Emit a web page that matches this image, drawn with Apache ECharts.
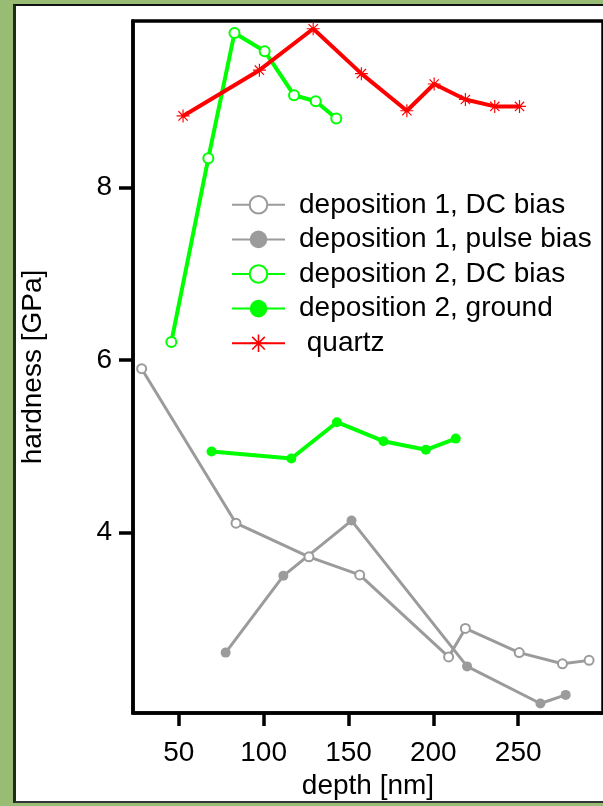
<!DOCTYPE html>
<html>
<head>
<meta charset="utf-8">
<script src="https://cdn.jsdelivr.net/npm/echarts@6/dist/echarts.min.js"></script>
<style>
  html, body { margin: 0; padding: 0; width: 603px; height: 806px; overflow: hidden; background: #99bc75; }
  #panel { position: absolute; left: 13px; top: 4px; width: 700px; height: 799px; background: #fff;
           border-left: 3px solid #1e2e16; border-top: 2px solid #111; border-bottom: 2px solid #333; box-sizing: border-box; }
  #chart { position: absolute; left: 0; top: 0; width: 603px; height: 806px; }
</style>
</head>
<body>
<div id="panel"></div>
<div id="chart"></div>
<script>
// depth [nm] and hardness [GPa]
const dep1DcX = [28.1, 83.7, 126.7, 156.6, 209.0, 218.9, 250.6, 276.1, 291.8];
const dep1DcY = [5.90, 4.11, 3.72, 3.51, 2.56, 2.89, 2.61, 2.48, 2.52];

const dep1PulseX = [77.6, 111.6, 151.8, 219.9, 263.1, 278.0];
const dep1PulseY = [2.61, 3.50, 4.14, 2.45, 2.02, 2.12];

const dep2DcX = [45.6, 67.4, 82.8, 100.6, 117.9, 130.7, 142.8];
const dep2DcY = [6.21, 8.34, 9.79, 9.58, 9.07, 9.00, 8.80];

const dep2GroundX = [69.3, 116.3, 143.2, 170.6, 195.6, 213.2];
const dep2GroundY = [4.94, 4.86, 5.28, 5.06, 4.96, 5.09];

const quartzX = [52.5, 97.5, 129.2, 157.6, 184.4, 200.5, 218.9, 236.2, 250.8];
const quartzY = [8.83, 9.36, 9.84, 9.32, 8.89, 9.20, 9.02, 8.94, 8.94];

const xTicks = [50, 100, 150, 200, 250];
const yTicks = [4, 6, 8];

const seriesNames = ['deposition 1, DC bias', 'deposition 1, pulse bias', 'deposition 2, DC bias', 'deposition 2, ground', ' quartz'];

function pairs(xs, ys) { return xs.map((x, i) => [x, ys[i]]); }

const FONT = "'Liberation Sans', Arial, Helvetica, sans-serif";
const GRAY = '#9b9b9b', GREEN = '#00ff00', RED = '#ff0000';
const ASTERISK = 'path://M0 9.1L20 9.1L20 10.9L0 10.9Z M9.1 0L10.9 0L10.9 20L9.1 20Z M2.2 3.5L3.5 2.2L17.8 16.5L16.5 17.8Z M16.5 2.2L17.8 3.5L3.5 17.8L2.2 16.5Z';

const chart = echarts.init(document.getElementById('chart'), null, { renderer: 'canvas' });
chart.setOption({
  backgroundColor: 'transparent',
  animation: false,
  textStyle: { fontFamily: FONT },
  grid: { left: 133, top: 21, width: 481, height: 692, show: true, borderColor: '#000', borderWidth: 3.5, backgroundColor: 'transparent' },
  legend: {
    orient: 'vertical', left: 226, top: 182.5,
    itemWidth: 53, itemHeight: 22, itemGap: 0,
    textStyle: { fontFamily: FONT, fontSize: 28, color: '#000', lineHeight: 34.6, padding: [0, 0, 0, 9] },
    data: seriesNames
  },
  xAxis: {
    type: 'value', min: 23, max: 300,
    name: 'depth [nm]', nameLocation: 'middle', nameGap: 58,
    nameTextStyle: { fontFamily: FONT, fontSize: 28, color: '#000' },
    axisLine: { show: true, lineStyle: { color: '#000', width: 3.5 } },
    axisTick: { show: true, length: 13, lineStyle: { color: '#000', width: 3.5 }, customValues: xTicks },
    axisLabel: { fontFamily: FONT, fontSize: 28, color: '#000', margin: 26, customValues: xTicks },
    splitLine: { show: false }
  },
  yAxis: {
    type: 'value', min: 1.91, max: 9.93,
    name: 'hardness [GPa]', nameLocation: 'middle', nameGap: 86,
    nameTextStyle: { fontFamily: FONT, fontSize: 28, color: '#000' },
    axisLine: { show: true, lineStyle: { color: '#000', width: 3.5 } },
    axisTick: { show: true, length: 14, lineStyle: { color: '#000', width: 3.5 }, customValues: yTicks },
    axisLabel: { fontFamily: FONT, fontSize: 28, color: '#000', margin: 21, customValues: yTicks },
    splitLine: { show: false }
  },
  series: [
    { name: seriesNames[0], type: 'line', data: pairs(dep1DcX, dep1DcY),
      symbol: 'emptyCircle', symbolSize: 9, showAllSymbol: true,
      lineStyle: { color: GRAY, width: 3 }, itemStyle: { color: GRAY, borderWidth: 1 } },
    { name: seriesNames[1], type: 'line', data: pairs(dep1PulseX, dep1PulseY),
      symbol: 'circle', symbolSize: 10, showAllSymbol: true,
      lineStyle: { color: GRAY, width: 3 }, itemStyle: { color: GRAY } },
    { name: seriesNames[2], type: 'line', data: pairs(dep2DcX, dep2DcY),
      symbol: 'emptyCircle', symbolSize: 10, showAllSymbol: true,
      lineStyle: { color: GREEN, width: 4 }, itemStyle: { color: GREEN, borderWidth: 1 } },
    { name: seriesNames[3], type: 'line', data: pairs(dep2GroundX, dep2GroundY),
      symbol: 'circle', symbolSize: 10, showAllSymbol: true,
      lineStyle: { color: GREEN, width: 4 }, itemStyle: { color: GREEN } },
    { name: seriesNames[4], type: 'line', data: pairs(quartzX, quartzY),
      symbol: ASTERISK, symbolSize: 13, showAllSymbol: true,
      lineStyle: { color: RED, width: 4 }, itemStyle: { color: RED } }
  ]
});
</script>
</body>
</html>
